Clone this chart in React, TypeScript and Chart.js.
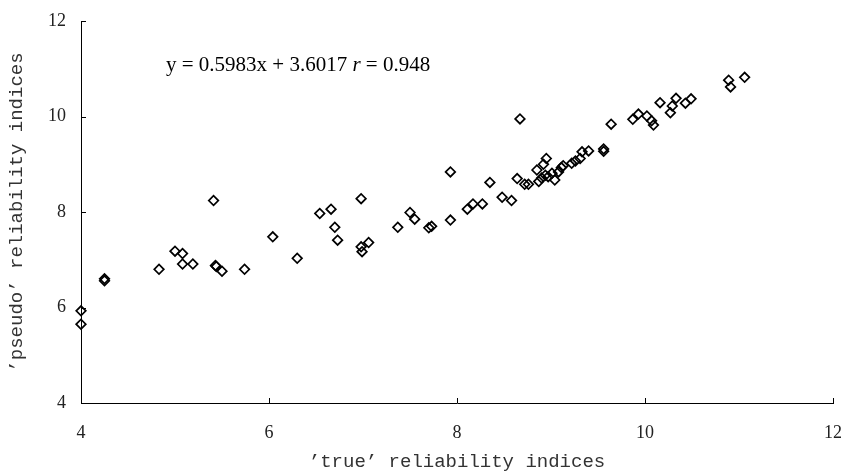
import React, { useEffect, useRef } from "react";
import { Chart, registerables } from "chart.js";

Chart.register(...registerables);

const xTrue: number[] = [
  4.0, 4.0, 4.25, 4.25, 4.83, 5.0, 5.08, 5.08, 5.19, 5.41, 5.43, 5.44, 5.5, 5.74,
  6.04, 6.3, 6.54, 6.66, 6.7, 6.73, 6.98, 6.98, 6.99, 7.06, 7.37, 7.5, 7.55, 7.7,
  7.73, 7.93, 7.93, 8.11, 8.17, 8.27, 8.35, 8.48, 8.58, 8.64, 8.67, 8.72, 8.76,
  8.85, 8.92, 8.95, 8.87, 8.9, 8.94, 8.97, 9.01, 9.04, 9.08, 9.11, 9.13, 9.22,
  9.26, 9.31, 9.33, 9.4, 9.56, 9.56, 9.64, 9.87, 9.93, 10.02, 10.07, 10.09, 10.16,
  10.27, 10.29, 10.33, 10.43, 10.49, 10.89, 10.91, 11.06,
];

const yPseudo: number[] = [
  5.93, 5.65, 6.6, 6.56, 6.8, 7.18, 7.13, 6.91, 6.91, 8.24, 6.88, 6.86, 6.76, 6.8,
  7.48, 7.03, 7.97, 8.06, 7.68, 7.41, 8.28, 7.27, 7.17, 7.36, 7.68, 7.99, 7.85, 7.67,
  7.7, 8.84, 7.83, 8.06, 8.17, 8.17, 8.62, 8.31, 8.24, 8.7, 9.95, 8.58, 8.58,
  8.88, 9.0, 9.12, 8.64, 8.71, 8.77, 8.74, 8.81, 8.67, 8.84, 8.93, 8.97, 9.02,
  9.07, 9.12, 9.26, 9.28, 9.32, 9.27, 9.84, 9.94, 10.05, 10.01, 9.91, 9.82, 10.29,
  10.08, 10.22, 10.38, 10.28, 10.37, 10.76, 10.62, 10.82,
];

const xTicks: number[] = [4, 6, 8, 10, 12];
const yTicks: number[] = [4, 6, 8, 10, 12];

const xTitle = "\u2019true\u2019 reliability indices";
const yTitle = "\u2019pseudo\u2019 reliability indices";
const equationText = "y = 0.5983x + 3.6017 ";
const rLabel = "r";
const rValueText = " = 0.948";

const innerTicksPlugin = {
  id: "innerTicks",
  afterDraw(chart: any) {
    const { ctx, scales } = chart;
    const xs = scales.x;
    const ys = scales.y;
    ctx.save();
    ctx.strokeStyle = "#000";
    ctx.lineWidth = 1;
    ctx.beginPath();
    xTicks.forEach((v) => {
      const px = Math.round(xs.getPixelForValue(v)) + 0.5;
      ctx.moveTo(px, ys.bottom);
      ctx.lineTo(px, ys.bottom - 5);
    });
    yTicks.forEach((v) => {
      const py = Math.round(ys.getPixelForValue(v)) + 0.5;
      ctx.moveTo(xs.left, py);
      ctx.lineTo(xs.left + 5, py);
    });
    ctx.stroke();

    // regression annotation
    ctx.fillStyle = "#000";
    ctx.textBaseline = "alphabetic";
    ctx.textAlign = "left";
    let tx = 166;
    const ty = 71;
    ctx.font = "21px 'Liberation Serif', 'Times New Roman', serif";
    ctx.fillText(equationText, tx, ty);
    tx += ctx.measureText(equationText).width;
    ctx.font = "italic 21px 'Liberation Serif', 'Times New Roman', serif";
    ctx.fillText(rLabel, tx, ty);
    tx += ctx.measureText(rLabel).width;
    ctx.font = "21px 'Liberation Serif', 'Times New Roman', serif";
    ctx.fillText(rValueText, tx, ty);
    ctx.restore();
  },
};

export default function App() {
  const canvasRef = useRef<HTMLCanvasElement | null>(null);

  useEffect(() => {
    if (!canvasRef.current) return;
    const points = xTrue.map((x, i) => ({ x, y: yPseudo[i] }));
    const tickFont = { family: "'Liberation Serif', 'Times New Roman', serif", size: 18 };
    const titleFont = { family: "'Liberation Mono', 'DejaVu Sans Mono', monospace", size: 19 };
    const chart = new Chart(canvasRef.current, {
      type: "scatter",
      data: {
        datasets: [
          {
            data: points,
            pointStyle: "rectRot",
            pointRadius: 4.8,
            pointBorderWidth: 1.7,
            pointBorderColor: "#000",
            pointBackgroundColor: "rgba(255,255,255,0)",
            showLine: false,
            clip: false,
          },
        ],
      },
      options: {
        animation: false,
        responsive: false,
        maintainAspectRatio: false,
        layout: { padding: { top: 21, right: 14, left: 0, bottom: 0 } },
        plugins: { legend: { display: false }, tooltip: { enabled: false } },
        scales: {
          x: {
            type: "linear",
            min: 4,
            max: 12,
            afterBuildTicks: (s: any) => {
              s.ticks = xTicks.map((v) => ({ value: v }));
            },
            ticks: { font: tickFont, color: "#222", padding: 19, maxRotation: 0 },
            grid: { display: false, drawTicks: false },
            border: { display: true, color: "#000", width: 1 },
            title: {
              display: true,
              text: xTitle,
              font: titleFont,
              color: "#333",
              padding: { top: 0, bottom: 2 },
            },
            afterFit: (s: any) => {
              s.height = 72;
              s.paddingLeft = 0;
              s.paddingRight = 0;
            },
          },
          y: {
            type: "linear",
            min: 4,
            max: 12,
            afterBuildTicks: (s: any) => {
              s.ticks = yTicks.map((v) => ({ value: v }));
            },
            ticks: { font: tickFont, color: "#222", padding: 15 },
            grid: { display: false, drawTicks: false },
            border: { display: true, color: "#000", width: 1 },
            title: {
              display: true,
              text: yTitle,
              font: titleFont,
              color: "#333",
              padding: { top: 6, bottom: 0 },
            },
            afterFit: (s: any) => {
              s.width = 81;
              s.paddingTop = 0;
              s.paddingBottom = 0;
            },
          },
        },
      },
      plugins: [innerTicksPlugin],
    });
    return () => chart.destroy();
  }, []);

  return (
    <div style={{ position: "absolute", left: 0, top: 0, width: 847, height: 475, background: "#fff" }}>
      <canvas ref={canvasRef} width={847} height={475} />
    </div>
  );
}
